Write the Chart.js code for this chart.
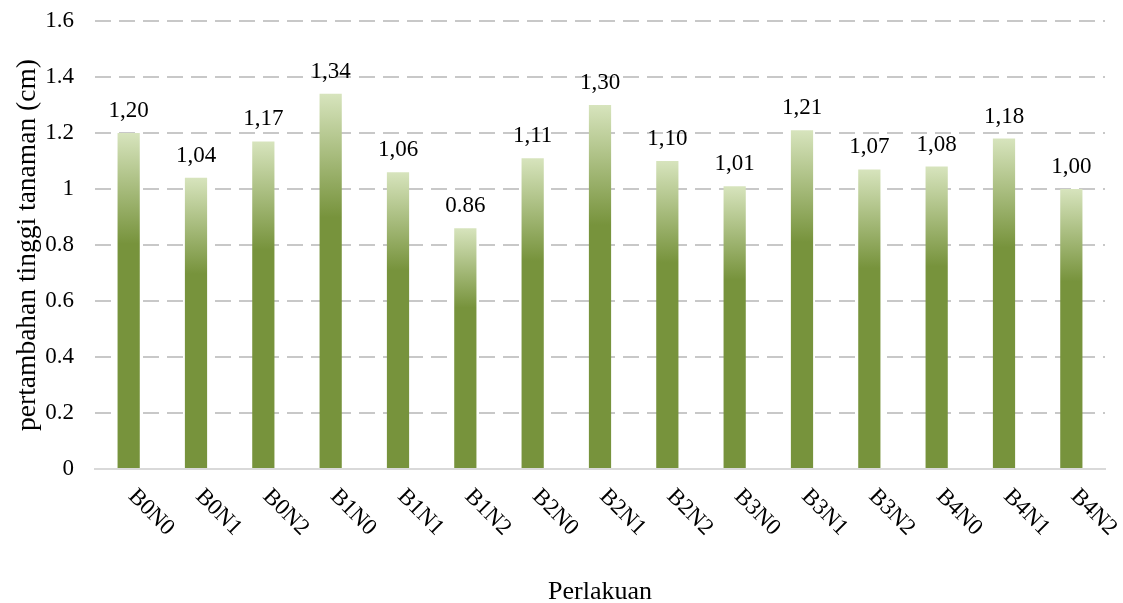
<!DOCTYPE html>
<html>
<head>
<meta charset="utf-8">
<script src="https://cdn.jsdelivr.net/npm/chart.js@4/dist/chart.umd.min.js"></script>
<style>
  html, body { margin: 0; padding: 0; background: #fff; }
  #wrap { width: 1123px; height: 603px; }
</style>
</head>
<body>
<div id="wrap"><canvas id="growthChart" width="1123" height="603"></canvas></div>
<script>
// data
const categories = ['B0N0', 'B0N1', 'B0N2', 'B1N0', 'B1N1', 'B1N2', 'B2N0', 'B2N1',
    'B2N2', 'B3N0', 'B3N1', 'B3N2', 'B4N0', 'B4N1', 'B4N2'];
const heights = [1.20, 1.04, 1.17, 1.34, 1.06, 0.86, 1.11, 1.30, 1.10, 1.01, 1.21, 1.07, 1.08, 1.18, 1.00];
const valueLabels = ['1,20', '1,04', '1,17', '1,34', '1,06', '0.86', '1,11', '1,30',
    '1,10', '1,01', '1,21', '1,07', '1,08', '1,18', '1,00'];
const yTicks = [0, 0.2, 0.4, 0.6, 0.8, 1, 1.2, 1.4, 1.6];

const FONT = "'Liberation Serif', 'Times New Roman', serif";
const DARK = '#77933c';
const LIGHT = '#d7e4bd';

/**
 * gradient for one bar: light at the top, full green after a third of the bar
 */
function barFill(ctx) {
    var chart = ctx.chart;
    var y = chart.scales.y;
    if (!y || ctx.dataIndex === undefined) return DARK;
    var top = y.getPixelForValue(heights[ctx.dataIndex]);
    var bottom = y.getPixelForValue(0);
    if (!isFinite(top) || !isFinite(bottom) || bottom <= top) return DARK;
    var g = chart.ctx.createLinearGradient(0, top, 0, top + (bottom - top) * 0.33);
    g.addColorStop(0, LIGHT);
    g.addColorStop(1, DARK);
    return g;
}

// labels over bars and the slanted category names
const textPlugin = {
    id: 'textPlugin',
    afterDatasetsDraw(chart) {
        var ctx = chart.ctx;
        var meta = chart.getDatasetMeta(0);
        ctx.save();
        ctx.fillStyle = '#000';
        ctx.font = '23px ' + FONT;
        ctx.textAlign = 'center';
        ctx.textBaseline = 'alphabetic';
        meta.data.forEach(function (bar, i) {
            ctx.fillText(valueLabels[i], bar.x, bar.y - 16);
        });
        categories.forEach(function (name, i) {
            var x = chart.scales.x.getPixelForValue(i);
            ctx.save();
            ctx.translate(x + 3, chart.chartArea.bottom + 24);
            ctx.rotate(Math.PI / 4);
            ctx.textAlign = 'left';
            ctx.textBaseline = 'middle';
            ctx.fillText(name, 0, 0);
            ctx.restore();
        });
        ctx.restore();
    }
};

var chart = new Chart(document.getElementById('growthChart').getContext('2d'), {
    type: 'bar',
    data: {
        labels: categories,
        datasets: [{
            label: 'pertambahan tinggi tanaman',
            data: heights,
            backgroundColor: barFill,
            borderWidth: 0,
            categoryPercentage: 1,
            barPercentage: 0.33
        }]
    },
    options: {
        responsive: false,
        animation: false,
        layout: { padding: { top: 21, right: 18, left: 0, bottom: 0 } },
        plugins: {
            legend: { display: false },
            tooltip: { enabled: false }
        },
        scales: {
            x: {
                grid: { display: false },
                border: { display: true, color: '#d9d9d9', width: 2 },
                ticks: { display: false },
                title: {
                    display: true,
                    text: 'Perlakuan',
                    color: '#000',
                    font: { family: FONT, size: 26, lineHeight: 0.8 },
                    padding: { top: 0, bottom: 0 }
                },
                afterFit(scale) {
                    scale.height = 134;
                    scale.paddingLeft = 0;
                    scale.paddingRight = 0;
                }
            },
            y: {
                min: 0,
                max: 1.6,
                afterBuildTicks(scale) {
                    scale.ticks = yTicks.map(v => ({ value: v }));
                },
                grid: {
                    color: c => c.tick && c.tick.value === 0 ? 'rgba(0,0,0,0)' : '#c8c8c8',
                    lineWidth: 2,
                    drawTicks: false
                },
                border: { display: false, dash: [16, 8] },
                ticks: {
                    color: '#000',
                    padding: 21,
                    font: { family: FONT, size: 23 },
                    callback: v => String(Math.round(v * 10) / 10)
                },
                title: {
                    display: true,
                    text: 'pertambahan tinggi tanaman (cm)',
                    color: '#000',
                    font: { family: FONT, size: 27.5 },
                    padding: { top: 11, bottom: 0 }
                },
                afterFit(scale) {
                    scale.width = 95;
                    scale.paddingTop = 0;
                    scale.paddingBottom = 0;
                }
            }
        }
    },
    plugins: [textPlugin]
});
// redraw once the scales exist so the gradients get real coordinates
chart.update('none');
</script>
</body>
</html>
